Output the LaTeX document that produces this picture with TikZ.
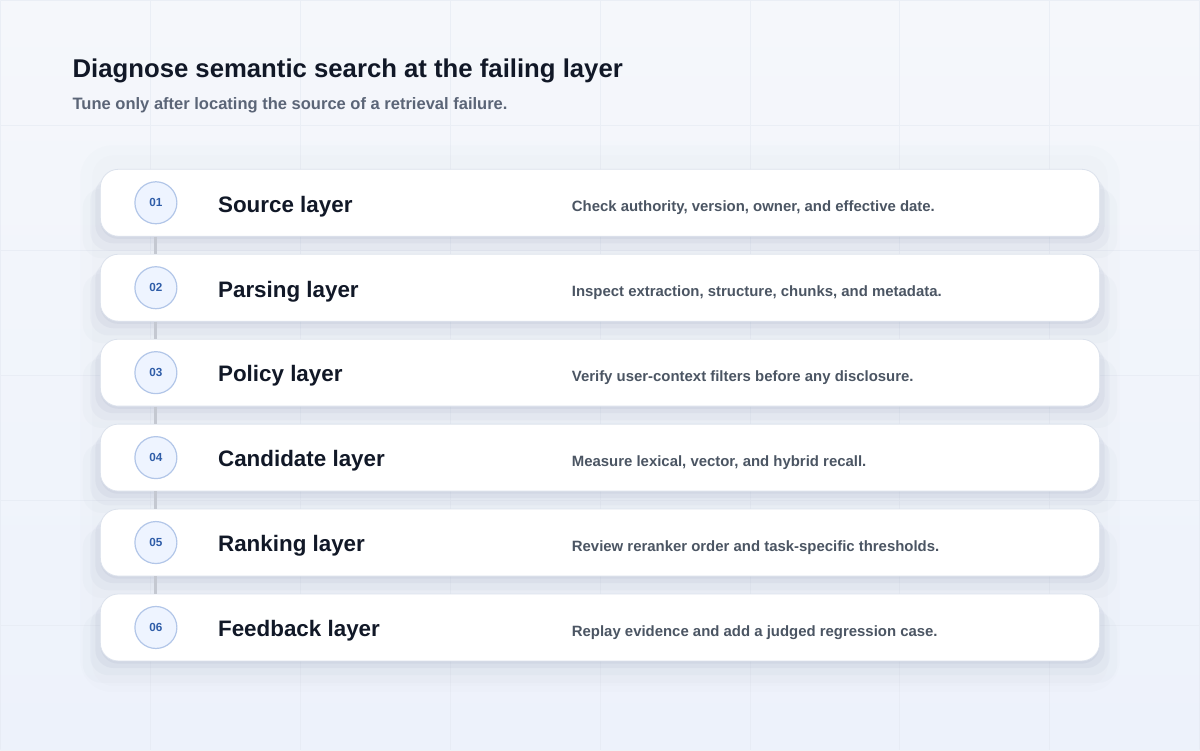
\documentclass[tikz,border=0pt]{standalone}
\usepackage{fontspec}
\setmainfont{Liberation Sans}
\usetikzlibrary{shapes.geometric, arrows, positioning, shadows}

\definecolor{bgtop}{HTML}{F5F7FB}
\definecolor{bgbottom}{HTML}{EDF2FB}
\definecolor{gridline}{HTML}{E4E9F1}
\definecolor{titlecol}{HTML}{111827}
\definecolor{subcol}{HTML}{5B6577}
\definecolor{desccol}{HTML}{4B5563}
\definecolor{numcol}{HTML}{2F5DA8}
\definecolor{numfill}{HTML}{EEF4FF}
\definecolor{numdraw}{HTML}{B2C6E8}
\definecolor{carddraw}{HTML}{DCE2EC}
\definecolor{shadowcol}{HTML}{8C97B4}
\definecolor{linkcol}{HTML}{C4C8D1}

\begin{document}
\begin{tikzpicture}[x=0.75pt, y=-0.75pt, node distance=63.75pt]

  \tikzstyle{card}   = [rectangle, rounded corners=13.5pt, minimum width=750pt, minimum height=50.25pt, draw=carddraw, line width=0.6pt, fill=white,
                        drop shadow={shadow xshift=0pt, shadow yshift=-15pt, shadow scale=1.035, opacity=0.03, fill=shadowcol},
                        drop shadow={shadow xshift=0pt, shadow yshift=-10pt, shadow scale=1.02, opacity=0.06, fill=shadowcol},
                        drop shadow={shadow xshift=0pt, shadow yshift=-5pt, shadow scale=1.01, opacity=0.09, fill=shadowcol},
                        drop shadow={shadow xshift=0pt, shadow yshift=-2pt, opacity=0.10, fill=shadowcol}]
  \tikzstyle{num}    = [circle, minimum size=31.5pt, inner sep=0pt, draw=numdraw, line width=0.9pt, fill=numfill, text=numcol, font=\fontsize{8.8}{10}\selectfont\bfseries]
  \tikzstyle{layer}  = [inner sep=0pt, text=titlecol, font=\fontsize{16.8}{20}\selectfont\bfseries]
  \tikzstyle{desc}   = [inner sep=0pt, text=desccol, font=\fontsize{11.2}{13}\selectfont\bfseries]
  \tikzstyle{link}   = [line width=2.2pt, draw=linkcol]

  % background and grid
  \shade[top color=bgtop, bottom color=bgbottom] (0,0) rectangle (1200,750);
  \draw[gridline, line width=0.6pt, opacity=0.6, xstep=112.5pt, ystep=93.75pt] (0,0) grid (1200,750);
  \fill[shadowcol, opacity=0.02, rounded corners=24pt] (80,145) rectangle (1120,692);
  \fill[shadowcol, opacity=0.02, rounded corners=16pt] (92,155) rectangle (1108,686);
  \useasboundingbox (0,0) rectangle (1200,750);

  \node (title)    [anchor=base west, text=titlecol, font=\fontsize{19.3}{23}\selectfont\bfseries, inner sep=0pt] at (72,77) {Diagnose semantic search at the failing layer};
  \node (subtitle) [anchor=base west, text=subcol, font=\fontsize{12.4}{14}\selectfont\bfseries, inner sep=0pt] at (72,109) {Tune only after locating the source of a retrieval failure.};

  % layer cards
  \node (card1) [card] at (600,202.5) {};
  \node (card2) [card, below of=card1] {};
  \node (card3) [card, below of=card2] {};
  \node (card4) [card, below of=card3] {};
  \node (card5) [card, below of=card4] {};
  \node (card6) [card, below of=card5] {};

  \node (num1) [num, right=42pt of card1.west, anchor=center] {01};
  \node (num2) [num, right=42pt of card2.west, anchor=center] {02};
  \node (num3) [num, right=42pt of card3.west, anchor=center] {03};
  \node (num4) [num, right=42pt of card4.west, anchor=center] {04};
  \node (num5) [num, right=42pt of card5.west, anchor=center] {05};
  \node (num6) [num, right=42pt of card6.west, anchor=center] {06};

  \node (layer1) [layer, right=88.5pt of card1.west, anchor=base west, yshift=-7pt] {Source layer};
  \node (layer2) [layer, right=88.5pt of card2.west, anchor=base west, yshift=-7pt] {Parsing layer};
  \node (layer3) [layer, right=88.5pt of card3.west, anchor=base west, yshift=-7pt] {Policy layer};
  \node (layer4) [layer, right=88.5pt of card4.west, anchor=base west, yshift=-7pt] {Candidate layer};
  \node (layer5) [layer, right=88.5pt of card5.west, anchor=base west, yshift=-7pt] {Ranking layer};
  \node (layer6) [layer, right=88.5pt of card6.west, anchor=base west, yshift=-7pt] {Feedback layer};

  \node (desc1) [desc, right=354pt of card1.west, anchor=base west, yshift=-6.8pt] {Check authority, version, owner, and effective date.};
  \node (desc2) [desc, right=354pt of card2.west, anchor=base west, yshift=-6.8pt] {Inspect extraction, structure, chunks, and metadata.};
  \node (desc3) [desc, right=354pt of card3.west, anchor=base west, yshift=-6.8pt] {Verify user-context filters before any disclosure.};
  \node (desc4) [desc, right=354pt of card4.west, anchor=base west, yshift=-6.8pt] {Measure lexical, vector, and hybrid recall.};
  \node (desc5) [desc, right=354pt of card5.west, anchor=base west, yshift=-6.8pt] {Review reranker order and task-specific thresholds.};
  \node (desc6) [desc, right=354pt of card6.west, anchor=base west, yshift=-6.8pt] {Replay evidence and add a judged regression case.};

  % links between steps
  \draw [link] (num1 |- card1.south) -- (num2 |- card2.north);
  \draw [link] (num2 |- card2.south) -- (num3 |- card3.north);
  \draw [link] (num3 |- card3.south) -- (num4 |- card4.north);
  \draw [link] (num4 |- card4.south) -- (num5 |- card5.north);
  \draw [link] (num5 |- card5.south) -- (num6 |- card6.north);

\end{tikzpicture}
\end{document}
